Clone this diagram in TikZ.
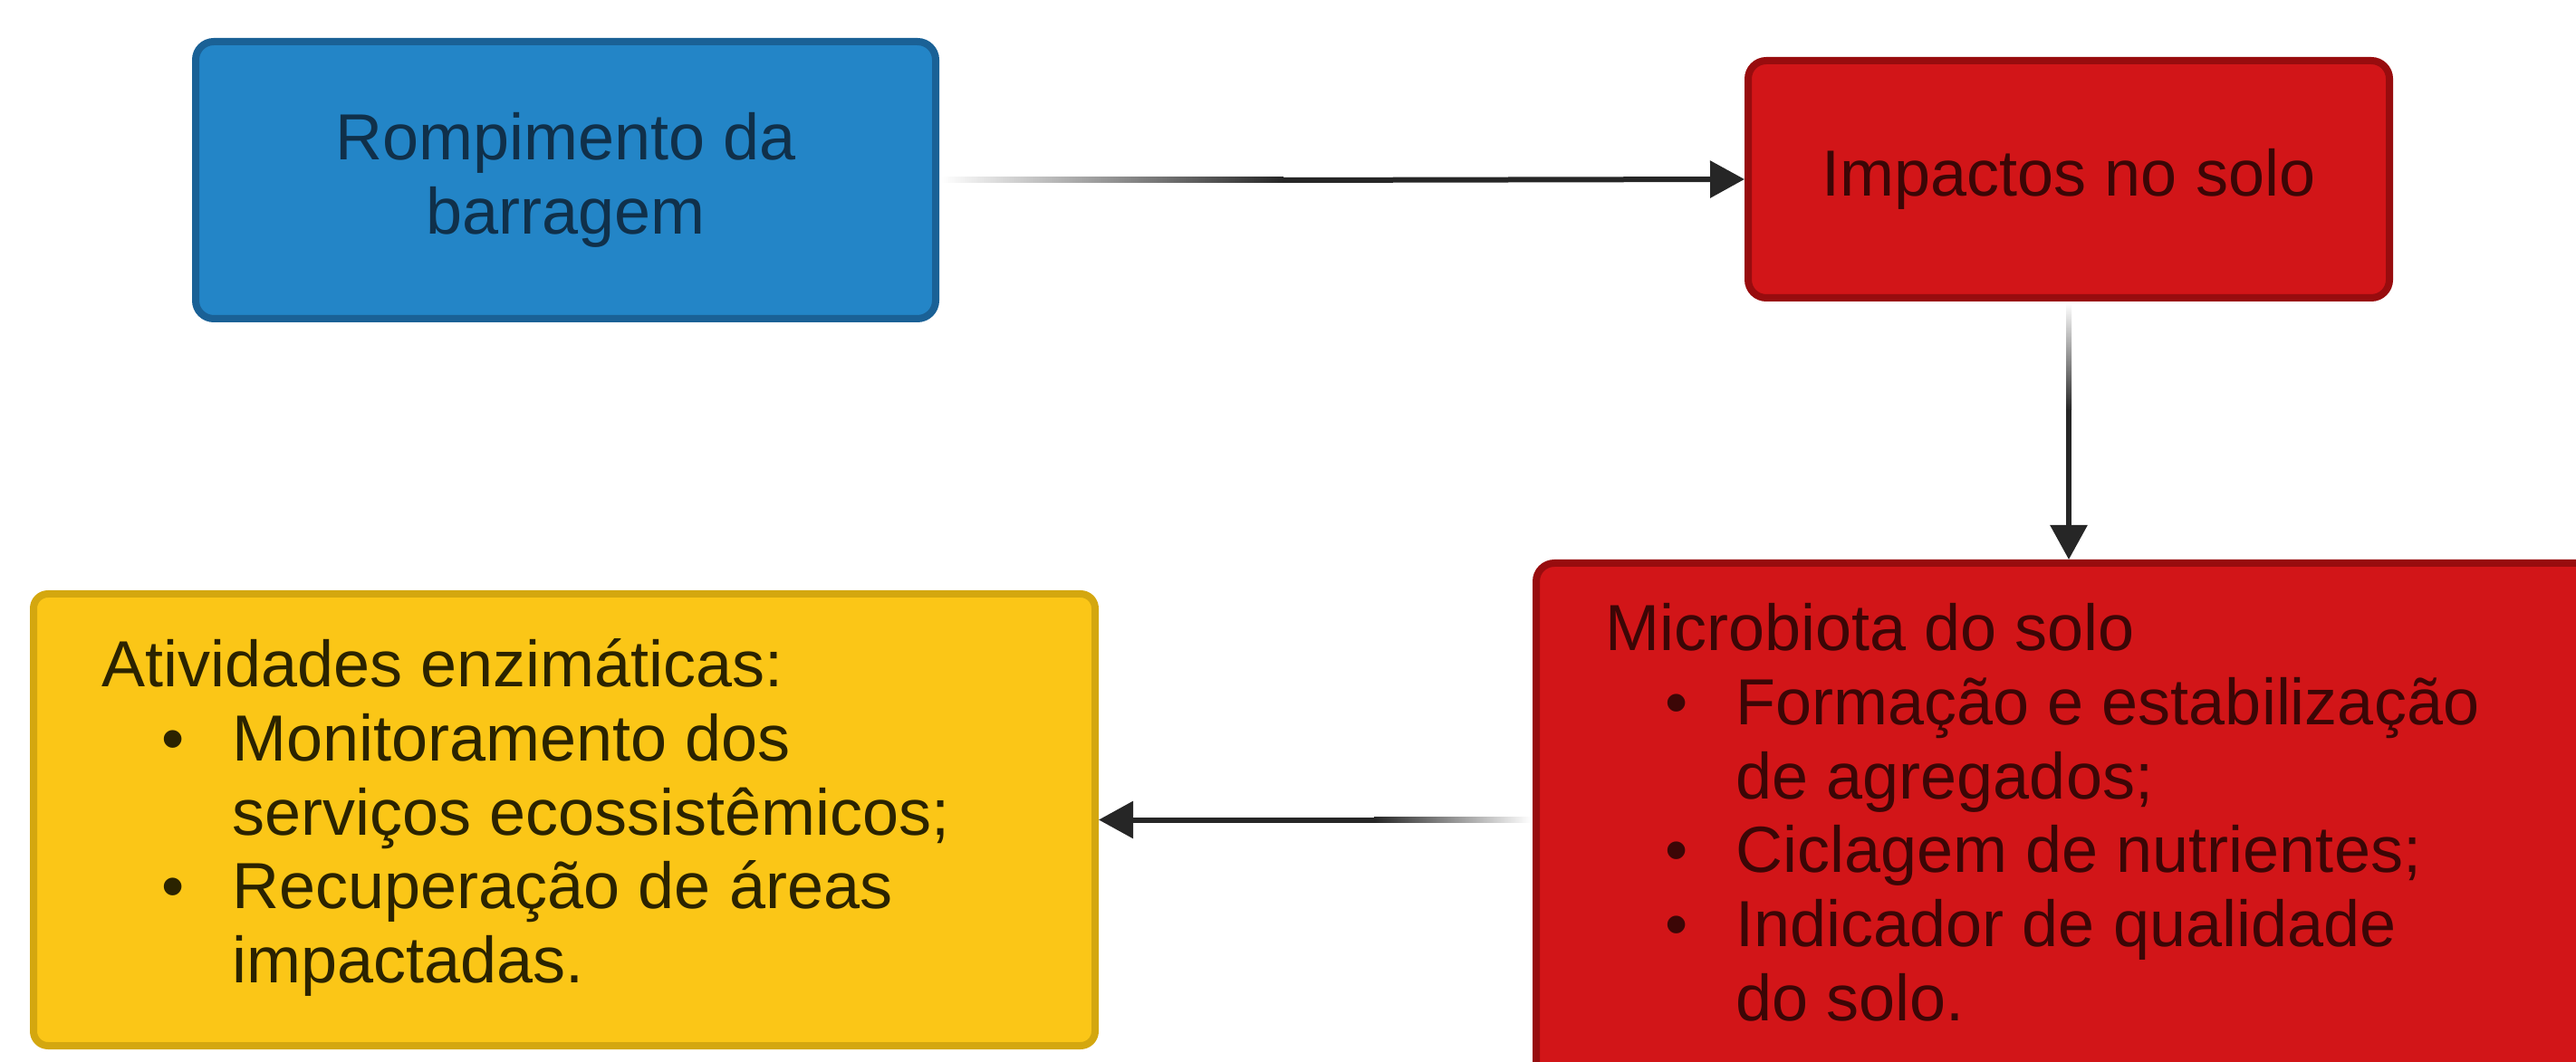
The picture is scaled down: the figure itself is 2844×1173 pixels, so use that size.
\documentclass[tikz,border=0pt]{standalone}
\usepackage{fontspec}
\setmainfont{Liberation Sans}
\usetikzlibrary{arrows.meta,calc}
\definecolor{bluefill}{HTML}{2385C7}
\definecolor{blueline}{HTML}{1A6196}
\definecolor{bluetext}{HTML}{10304A}
\definecolor{redfill}{HTML}{D21518}
\definecolor{redline}{HTML}{980C0E}
\definecolor{redtext}{HTML}{3C0606}
\definecolor{yelfill}{HTML}{FBC617}
\definecolor{yelline}{HTML}{D4A70F}
\definecolor{yeltext}{HTML}{2B2300}
\definecolor{arrowgray}{HTML}{262626}
\newcommand\bul{\makebox[36pt][l]{\hspace*{16.4pt}•}}
\newcommand\ind{\hspace*{36pt}}
\begin{document}
\begin{tikzpicture}[x=0.25pt,y=-0.25pt,
  boxbase/.style={line width=2pt, rounded corners=5pt, inner sep=0pt, anchor=north west},
  boxfont/.style={font=\fontsize{18}{20.4}\selectfont},
  listtext/.style={boxfont, anchor=base west, inner sep=0pt},
  arr/.style={draw=arrowgray, line width=1.5pt, -{Triangle[length=9.5pt,width=10pt]}},
  fadeh/.style={shade, shading=axis, left color=white, right color=arrowgray},
  fadehr/.style={shade, shading=axis, left color=arrowgray, right color=white},
  fadev/.style={shade, shading=axis, top color=white, bottom color=arrowgray}]
\useasboundingbox (0,0) rectangle (2844,1173);
% boxes
\node[boxbase, draw=blueline, fill=bluefill, minimum width=204.25pt, minimum height=76.5pt,
      boxfont, text=bluetext, align=center] (rupt) at (212,42) {Rompimento da\\barragem};
\node[boxbase, draw=redline, fill=redfill, minimum width=177pt, minimum height=65.5pt,
      boxfont, text=redtext] (imp) at (1926,63) {Impactos no solo};
\node[boxbase, draw=redline, fill=redfill, minimum width=302pt, minimum height=158pt] (micro) at (1692,618) {};
\node[boxbase, rounded corners=4pt, draw=yelline, fill=yelfill, minimum width=293pt, minimum height=124.75pt] (enz) at (33,652) {};
% texts
\node[listtext, text=redtext] (microtxt) at (1772,719) {\begin{tabular}[t]{@{}l@{}}
Microbiota do solo\\
\bul Formação e estabilização\\
\ind de agregados;\\
\bul Ciclagem de nutrientes;\\
\bul Indicador de qualidade\\
\ind do solo.
\end{tabular}};
\node[listtext, text=yeltext] (enztxt) at (112,759) {\begin{tabular}[t]{@{}l@{}}
Atividades enzimáticas:\\
\bul Monitoramento dos\\
\ind serviços ecossistêmicos;\\
\bul Recuperação de áreas\\
\ind impactadas.
\end{tabular}};
% connectors (faded start, then solid with arrow head)
\path[fadeh] ($(rupt.east)+(2,-3)$) rectangle ($(rupt.east)+(380,3)$);
\draw[arr] ($(rupt.east)+(380,0)$) -- (imp.west);
\path[fadev] ($(imp.south)+(-3,2)$) rectangle ($(imp.south)+(3,120)$);
\draw[arr] ($(imp.south)+(0,120)$) -- (imp.south |- micro.north);
\path[fadehr] ($(micro.west |- enz.east)+(-175,-3)$) rectangle ($(micro.west |- enz.east)+(-2,3)$);
\draw[arr] ($(micro.west |- enz.east)+(-175,0)$) -- (enz.east);
\end{tikzpicture}
\end{document}
